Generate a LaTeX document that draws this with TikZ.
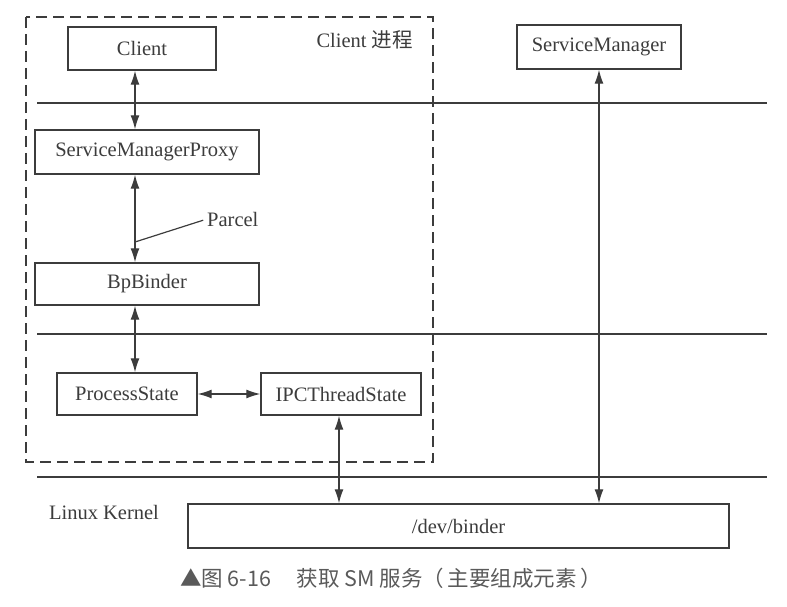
\documentclass[tikz,border=0pt]{standalone}
\usepackage{fontspec}
\setmainfont{Liberation Serif}
\newfontfamily\cjk{Noto Sans CJK SC}
\usetikzlibrary{arrows.meta}
\definecolor{ink}{HTML}{3C3C3C}
\definecolor{cap}{HTML}{5A5A5A}
\tikzset{
  box/.style={draw=ink, line width=1.4pt, rectangle, inner sep=0pt, font=\fontsize{20.5}{22}\selectfont, text=ink},
  arr/.style={draw=ink, line width=1.3pt, {Latex[length=14pt,width=9pt]}-{Latex[length=14pt,width=9pt]}},
  sep/.style={draw=ink, line width=1.3pt},
  lbl/.style={font=\fontsize{20.5}{22}\selectfont, text=ink, inner sep=0pt},
}
\begin{document}
\begin{tikzpicture}[x=1pt,y=-1pt]
\useasboundingbox (0,0) rectangle (787,607);
% dashed process boundary
\draw[draw=ink, line width=1.4pt, dash pattern=on 11pt off 6pt] (26,17) rectangle (433,462);
% layer separators
\draw[sep] (37,103) -- (767,103);
\draw[sep] (37,334) -- (767,334);
\draw[sep] (37,477) -- (767,477);
% boxes
\node[box, minimum width=148pt, minimum height=43pt] (client) at (142,48.5) {Client};
\node[box, minimum width=164pt, minimum height=44pt] (sm) at (599,47) {ServiceManager};
\node[box, minimum width=224pt, minimum height=44pt] (smp) at (147,152) {ServiceManagerProxy};
\node[box, minimum width=224pt, minimum height=42pt] (bp) at (147,284) {BpBinder};
\node[box, minimum width=140pt, minimum height=42pt] (ps) at (127,394) {ProcessState};
\node[box, minimum width=160pt, minimum height=42pt] (ipc) at (341,394) {IPCThreadState};
\node[box, minimum width=541pt, minimum height=44pt] (dev) at (458.5,526) {/dev/binder};
% labels
\node[lbl, anchor=east] (cproc) at (413,40) {Client {\cjk 进程}};
\node[lbl] (lk) at (104,512) {Linux Kernel};
\node[lbl, anchor=west] (parcel) at (207,219) {Parcel};
\node[font=\cjk\fontsize{21.5}{24}\selectfont, text=cap, inner sep=0pt] (caption) at (391,578) {▲图 6-16\hspace{1.2em}获取 SM 服务（\,主要组成元素\,）};
% connectors
\coordinate (xa) at (135,0);
\coordinate (xi) at (339,0);
\draw[arr] (client.south -| xa) -- (smp.north -| xa);
\draw[arr] (smp.south -| xa) -- (bp.north -| xa);
\draw[arr] (bp.south -| xa) -- (ps.north -| xa);
\draw[arr] (ps.east) -- (ipc.west);
\draw[arr] (ipc.south -| xi) -- (dev.north -| xi);
\draw[arr] (sm.south) -- (dev.north -| sm.south);
\coordinate (pc) at (135,242);
\draw[draw=ink, line width=1.2pt, shorten >=4pt] (pc) -- (parcel.west);
\end{tikzpicture}
\end{document}
